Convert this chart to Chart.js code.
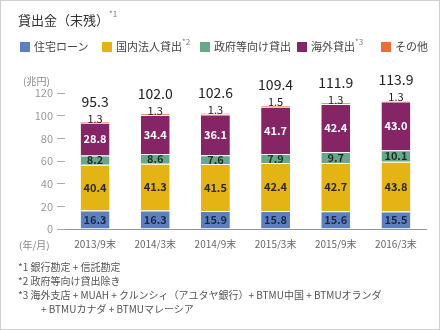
<!DOCTYPE html>
<html>
<head>
<meta charset="utf-8">
<script src="https://cdn.jsdelivr.net/npm/chart.js@4"></script>
<style>
  body { margin: 0; background: #fff; font-family: "Noto Sans CJK JP", sans-serif; }
  #wrap { position: relative; width: 440px; height: 330px; box-sizing: border-box; border: 1px solid #cfcfcf; overflow: hidden; }
  #chart { position: absolute; left: -1px; top: -1px; }
  .t { position: absolute; white-space: nowrap; color: #333; }
  .title { left: 17px; top: 9px; font-size: 13px; color: #333; }
  .title sup, .lg sup { font-size: 8px; vertical-align: top; position: relative; top: -2px; color: #777; }
  .lg { top: 37px; font-size: 11px; color: #444; }
  .lg i { display: inline-block; width: 10px; height: 10px; vertical-align: -1px; margin-right: 4px; }
  .note { font-size: 10px; color: #555; left: 17px; }
</style>
</head>
<body>
<div id="wrap">
  <canvas id="chart" width="440" height="330"></canvas>
  <div class="t title">貸出金（末残）<sup>*1</sup></div>
  <div id="legend"></div>
  <div class="t" style="left:22px; top:72px; font-size:10px; color:#888;">(兆円)</div>
  <div class="t" style="left:18px; top:236px; font-size:10px; color:#888;">(年/月)</div>
  <div class="t note" style="top:258px;">*1 銀行勘定 + 信託勘定</div>
  <div class="t note" style="top:272px;">*2 政府等向け貸出除き</div>
  <div class="t note" style="top:286px;">*3 海外支店 + MUAH + クルンシィ（アユタヤ銀行）+ BTMU中国 + BTMUオランダ</div>
  <div class="t note" style="top:300px; left:40px;">+ BTMUカナダ + BTMUマレーシア</div>
</div>
<script>
// categories and series (trillion yen)
const periods = ['2013/9末', '2014/3末', '2014/9末', '2015/3末', '2015/9末', '2016/3末'];
const housing = [16.3, 16.3, 15.9, 15.8, 15.6, 15.5];
const domesticCorp = [40.4, 41.3, 41.5, 42.4, 42.7, 43.8];
const government = [8.2, 8.6, 7.6, 7.9, 9.7, 10.1];
const overseas = [28.8, 34.4, 36.1, 41.7, 42.4, 43.0];
const others = [1.3, 1.3, 1.3, 1.5, 1.3, 1.3];
const totals = [95.3, 102.0, 102.6, 109.4, 111.9, 113.9];

const seriesNames = ['住宅ローン', '国内法人貸出', '政府等向け貸出', '海外貸出', 'その他'];
const seriesMarks = ['', '*2', '', '*3', ''];
const colors = ['#5b7fc0', '#e4b414', '#69a78a', '#862565', '#f26a3a'];
const labelColors = ['#1e2a44', '#2a2a2a', '#1f2f28', '#ffffff', '#222'];
const legendX = [19, 101, 199, 296, 380];

// legend in html
const lg = document.getElementById('legend');
seriesNames.forEach((name, i) => {
  const d = document.createElement('div');
  d.className = 't lg';
  d.style.left = legendX[i] + 'px';
  d.innerHTML = '<i style="background:' + colors[i] + '"></i>' + name + (seriesMarks[i] ? '<sup>' + seriesMarks[i] + '</sup>' : '');
  lg.appendChild(d);
});

const allSeries = [housing, domesticCorp, government, overseas, others];

// draws value labels inside segments and totals on top
const valueLabels = {
  id: 'valueLabels',
  afterDatasetsDraw(chart) {
    const ctx = chart.ctx;
    ctx.save();
    ctx.textAlign = 'center';
    ctx.textBaseline = 'middle';
    chart.data.datasets.forEach((ds, di) => {
      const meta = chart.getDatasetMeta(di);
      meta.data.forEach((bar, i) => {
        const v = ds.data[i];
        if (di === 4) {
          ctx.font = '11px "Noto Sans CJK JP"';
          ctx.fillStyle = '#222';
          ctx.fillText(v.toFixed(1), bar.x, bar.y - 3);
        } else {
          ctx.font = 'bold 11px "Noto Sans CJK JP"';
          ctx.fillStyle = labelColors[di];
          ctx.fillText(v.toFixed(1), bar.x, (bar.y + bar.base) / 2);
        }
      });
    });
    const top = chart.getDatasetMeta(4);
    ctx.font = '14px "Noto Sans CJK JP"';
    ctx.fillStyle = '#222';
    top.data.forEach((bar, i) => {
      ctx.fillText(totals[i].toFixed(1), bar.x, bar.y - 20);
    });
    ctx.restore();
  }
};

new Chart(document.getElementById('chart'), {
  type: 'bar',
  data: {
    labels: periods,
    datasets: allSeries.map((d, i) => ({
      label: seriesNames[i],
      data: d,
      backgroundColor: colors[i],
      borderColor: 'rgba(255,255,255,0.6)',
      borderWidth: { top: 1, left: 0, right: 0, bottom: 0 },
      barPercentage: 0.8,
      categoryPercentage: 0.6
    }))
  },
  options: {
    responsive: false,
    animation: false,
    events: [],
    layout: { padding: { left: 0, right: 14, top: 93, bottom: 81 } },
    plugins: { legend: { display: false }, tooltip: { enabled: false } },
    scales: {
      x: {
        stacked: true,
        grid: { display: false, drawTicks: false },
        border: { display: true, color: '#999', width: 1 },
        ticks: { color: '#666', font: { size: 10, family: '"Noto Sans CJK JP"' }, padding: 9 },
        afterFit(scale) { scale.height = 20; }
      },
      y: {
        stacked: true,
        min: 0,
        max: 120,
        ticks: { stepSize: 20, color: '#999', font: { size: 11, family: '"Noto Sans CJK JP"' }, padding: 4 },
        grid: { drawOnChartArea: false, drawTicks: true, tickLength: 8, color: '#aaa' },
        border: { display: false },
        afterFit(scale) { scale.width = 65; }
      }
    }
  },
  plugins: [valueLabels]
});
</script>
</body>
</html>
